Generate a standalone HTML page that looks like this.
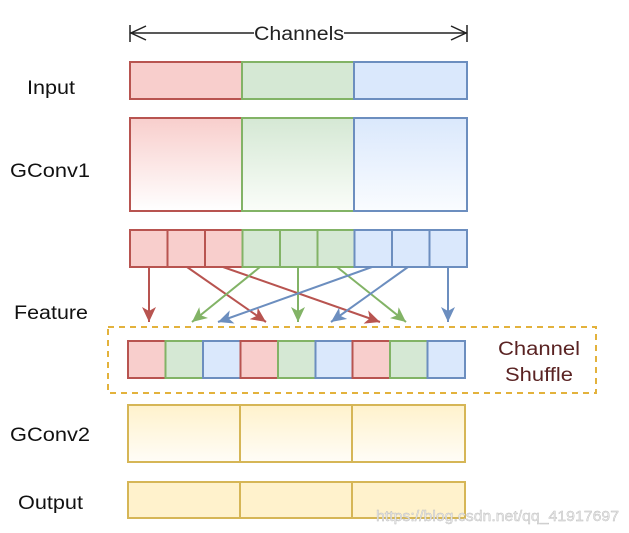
<!DOCTYPE html>
<html><head><style>html,body{margin:0;padding:0;background:#fff}svg{display:block}</style></head><body>
<svg width="629" height="533" xmlns="http://www.w3.org/2000/svg" font-family="Liberation Sans, Arial, sans-serif">
<defs>
<linearGradient id="gr" x1="0" y1="0" x2="0" y2="1"><stop offset="0" stop-color="#f8cecc"/><stop offset="1" stop-color="#fff"/></linearGradient>
<linearGradient id="gg" x1="0" y1="0" x2="0" y2="1"><stop offset="0" stop-color="#d5e8d4"/><stop offset="1" stop-color="#fafdf9"/></linearGradient>
<linearGradient id="gb" x1="0" y1="0" x2="0" y2="1"><stop offset="0" stop-color="#dae8fc"/><stop offset="1" stop-color="#fafcff"/></linearGradient>
<linearGradient id="gy" x1="0" y1="0" x2="0" y2="1"><stop offset="0" stop-color="#fff2cc"/><stop offset="1" stop-color="#fffdf7"/></linearGradient>
<marker id="mr" markerWidth="16" markerHeight="14" refX="15" refY="7" orient="auto" markerUnits="userSpaceOnUse"><path d="M0,0 L15,7 L0,14 L4,7z" fill="#b85450"/></marker>
<marker id="mg" markerWidth="16" markerHeight="14" refX="15" refY="7" orient="auto" markerUnits="userSpaceOnUse"><path d="M0,0 L15,7 L0,14 L4,7z" fill="#82b366"/></marker>
<marker id="mb" markerWidth="16" markerHeight="14" refX="15" refY="7" orient="auto" markerUnits="userSpaceOnUse"><path d="M0,0 L15,7 L0,14 L4,7z" fill="#6c8ebf"/></marker>
</defs>
<g font-size="19" fill="#111">
<text x="27" y="94" textLength="48" lengthAdjust="spacingAndGlyphs">Input</text>
<text x="10" y="177" textLength="80" lengthAdjust="spacingAndGlyphs">GConv1</text>
<text x="14" y="319" textLength="74" lengthAdjust="spacingAndGlyphs">Feature</text>
<text x="10" y="441" textLength="80" lengthAdjust="spacingAndGlyphs">GConv2</text>
<text x="18" y="509" textLength="65" lengthAdjust="spacingAndGlyphs">Output</text>
</g>
<!-- channels arrow -->
<g stroke="#222" stroke-width="1.5" fill="none">
<line x1="130" y1="33" x2="254" y2="33"/><line x1="344" y1="33" x2="467" y2="33"/>
<line x1="130" y1="25" x2="130" y2="42"/><line x1="467" y1="25" x2="467" y2="42"/>
<path d="M146,26 L131,33 L146,40"/><path d="M451,26 L466,33 L451,40"/>
</g>
<text x="299" y="40" font-size="19" text-anchor="middle" fill="#222" textLength="90" lengthAdjust="spacingAndGlyphs">Channels</text>
<!-- input -->
<g stroke-width="2">
<rect x="130" y="62" width="112" height="37" fill="#f8cecc" stroke="#b85450"/>
<rect x="242" y="62" width="112" height="37" fill="#d5e8d4" stroke="#82b366"/>
<rect x="354" y="62" width="113" height="37" fill="#dae8fc" stroke="#6c8ebf"/>
<rect x="130" y="118" width="112" height="93" fill="url(#gr)" stroke="#b85450"/>
<rect x="242" y="118" width="112" height="93" fill="url(#gg)" stroke="#82b366"/>
<rect x="354" y="118" width="113" height="93" fill="url(#gb)" stroke="#6c8ebf"/>
</g>
<!-- feature row -->
<g stroke-width="2">
<rect x="130" y="230" width="37.5" height="37" fill="#f8cecc" stroke="#b85450"/>
<rect x="167.5" y="230" width="37.5" height="37" fill="#f8cecc" stroke="#b85450"/>
<rect x="205" y="230" width="37.5" height="37" fill="#f8cecc" stroke="#b85450"/>
<rect x="242.5" y="230" width="37.5" height="37" fill="#d5e8d4" stroke="#82b366"/>
<rect x="280" y="230" width="37.5" height="37" fill="#d5e8d4" stroke="#82b366"/>
<rect x="317.5" y="230" width="37" height="37" fill="#d5e8d4" stroke="#82b366"/>
<rect x="354.5" y="230" width="37.5" height="37" fill="#dae8fc" stroke="#6c8ebf"/>
<rect x="392" y="230" width="37.5" height="37" fill="#dae8fc" stroke="#6c8ebf"/>
<rect x="429.5" y="230" width="37.5" height="37" fill="#dae8fc" stroke="#6c8ebf"/>
</g>
<!-- arrows -->
<g stroke-width="2" fill="none">
<line x1="149" y1="267" x2="149" y2="322" stroke="#b85450" marker-end="url(#mr)"/>
<line x1="187" y1="267" x2="266" y2="322" stroke="#b85450" marker-end="url(#mr)"/>
<line x1="223" y1="267" x2="380" y2="322" stroke="#b85450" marker-end="url(#mr)"/>
<line x1="260" y1="267" x2="192" y2="322" stroke="#82b366" marker-end="url(#mg)"/>
<line x1="298" y1="267" x2="298" y2="322" stroke="#82b366" marker-end="url(#mg)"/>
<line x1="337" y1="267" x2="406" y2="322" stroke="#82b366" marker-end="url(#mg)"/>
<line x1="372" y1="267" x2="218" y2="322" stroke="#6c8ebf" marker-end="url(#mb)"/>
<line x1="408" y1="267" x2="331" y2="322" stroke="#6c8ebf" marker-end="url(#mb)"/>
<line x1="448" y1="267" x2="448" y2="322" stroke="#6c8ebf" marker-end="url(#mb)"/>
</g>
<!-- dashed box -->
<rect x="108" y="327" width="488" height="66" fill="none" stroke="#e3b23c" stroke-width="2" stroke-dasharray="6,5"/>
<g stroke-width="2">
<rect x="128" y="341" width="37.5" height="37" fill="#f8cecc" stroke="#b85450"/>
<rect x="165.5" y="341" width="37.5" height="37" fill="#d5e8d4" stroke="#82b366"/>
<rect x="203" y="341" width="37.5" height="37" fill="#dae8fc" stroke="#6c8ebf"/>
<rect x="240.5" y="341" width="37.5" height="37" fill="#f8cecc" stroke="#b85450"/>
<rect x="278" y="341" width="37.5" height="37" fill="#d5e8d4" stroke="#82b366"/>
<rect x="315.5" y="341" width="37" height="37" fill="#dae8fc" stroke="#6c8ebf"/>
<rect x="352.5" y="341" width="37.5" height="37" fill="#f8cecc" stroke="#b85450"/>
<rect x="390" y="341" width="37.5" height="37" fill="#d5e8d4" stroke="#82b366"/>
<rect x="427.5" y="341" width="37.5" height="37" fill="#dae8fc" stroke="#6c8ebf"/>
</g>
<g font-size="19" fill="#5a2323" text-anchor="middle">
<text x="539" y="355" textLength="82" lengthAdjust="spacingAndGlyphs">Channel</text>
<text x="539" y="381" textLength="68" lengthAdjust="spacingAndGlyphs">Shuffle</text>
</g>
<!-- gconv2 / output -->
<g stroke="#d6b656" stroke-width="2">
<rect x="128" y="405" width="112" height="57" fill="url(#gy)"/>
<rect x="240" y="405" width="112" height="57" fill="url(#gy)"/>
<rect x="352" y="405" width="113" height="57" fill="url(#gy)"/>
<rect x="128" y="482" width="112" height="36" fill="#fff2cc"/>
<rect x="240" y="482" width="112" height="36" fill="#fff2cc"/>
<rect x="352" y="482" width="113" height="36" fill="#fff2cc"/>
</g>
<text x="376" y="521" font-size="15" fill="#e8e8e8" stroke="#bbb" stroke-width="0.4" textLength="243" lengthAdjust="spacingAndGlyphs">https://blog.csdn.net/qq_41917697</text>
</svg>
</body></html>
